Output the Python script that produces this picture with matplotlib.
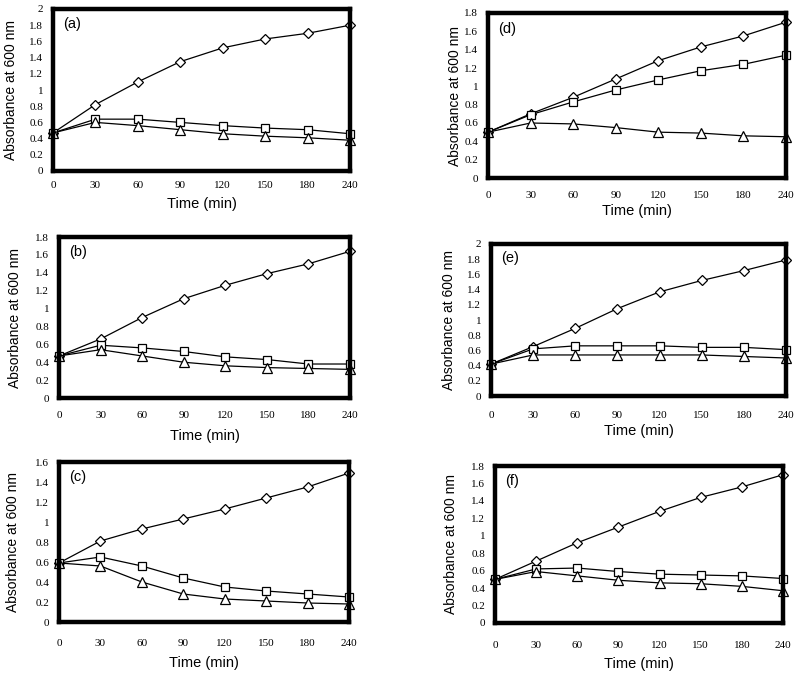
import numpy as np
import matplotlib
matplotlib.use("Agg")
import matplotlib.pyplot as plt
from matplotlib.ticker import FuncFormatter

times = ["0", "30", "60", "90", "120", "150", "180", "240"]

# absorbance at 600 nm
a_diamond = [0.47, 0.82, 1.10, 1.35, 1.52, 1.63, 1.70, 1.80]
a_square = [0.47, 0.64, 0.64, 0.60, 0.56, 0.53, 0.51, 0.46]
a_triangle = [0.47, 0.60, 0.56, 0.51, 0.46, 0.43, 0.41, 0.38]

b_diamond = [0.47, 0.66, 0.90, 1.11, 1.26, 1.39, 1.50, 1.64]
b_square = [0.47, 0.59, 0.56, 0.52, 0.46, 0.43, 0.38, 0.38]
b_triangle = [0.47, 0.54, 0.47, 0.40, 0.36, 0.34, 0.33, 0.32]

c_diamond = [0.59, 0.81, 0.93, 1.03, 1.13, 1.24, 1.35, 1.49]
c_square = [0.59, 0.65, 0.56, 0.44, 0.35, 0.31, 0.28, 0.25]
c_triangle = [0.59, 0.56, 0.40, 0.28, 0.23, 0.21, 0.19, 0.18]

d_diamond = [0.50, 0.70, 0.88, 1.08, 1.28, 1.43, 1.55, 1.70]
d_square = [0.50, 0.69, 0.83, 0.96, 1.07, 1.17, 1.24, 1.34]
d_triangle = [0.50, 0.60, 0.59, 0.55, 0.50, 0.49, 0.46, 0.45]

e_diamond = [0.42, 0.65, 0.89, 1.15, 1.37, 1.52, 1.65, 1.79]
e_square = [0.42, 0.62, 0.66, 0.66, 0.66, 0.64, 0.64, 0.61]
e_triangle = [0.42, 0.54, 0.54, 0.54, 0.54, 0.54, 0.52, 0.50]

f_diamond = [0.50, 0.71, 0.92, 1.10, 1.28, 1.44, 1.56, 1.70]
f_square = [0.50, 0.62, 0.63, 0.59, 0.56, 0.55, 0.54, 0.51]
f_triangle = [0.50, 0.59, 0.54, 0.49, 0.46, 0.45, 0.42, 0.37]

W, H = 800, 676

# (name, diamond, square, triangle, ymax, left, right, top, bottom, ylabel right edge, xlabel top offset, xtick pad)
panels = [
    ("(a)", a_diamond, a_square, a_triangle, 2.0, 53, 350, 9, 171, 18, 26, 7),
    ("(b)", b_diamond, b_square, b_triangle, 1.8, 59, 350, 237, 398, 22, 31, 9),
    ("(c)", c_diamond, c_square, c_triangle, 1.6, 59, 349, 462, 622, 20, 34, 12),
    ("(d)", d_diamond, d_square, d_triangle, 1.8, 488, 786, 13, 178, 462, 26, 9),
    ("(e)", e_diamond, e_square, e_triangle, 2.0, 491, 786, 244, 396, 456, 28, 11),
    ("(f)", f_diamond, f_square, f_triangle, 1.8, 495, 783, 466, 623, 458, 34, 13),
]

fig = plt.figure(figsize=(W / 100, H / 100), dpi=100)
serif = "Liberation Serif"
sans = "Liberation Sans"

x = np.arange(len(times))
for name, dia, sq, tri, ymax, l, r, t, b, ylx, xdy, xpad in panels:
    ax = fig.add_axes([l / W, (H - b) / H, (r - l) / W, (b - t) / H])
    style = dict(color="black", lw=0.9, mfc="white", mec="black", mew=0.9, clip_on=False, zorder=3)
    ax.plot(x, dia, marker="D", ms=5, **style)
    ax.plot(x, sq, marker="s", ms=5.5, **style)
    ax.plot(x, tri, marker="^", ms=6.5, **style)

    ax.set_xlim(0, len(times) - 1)
    ax.set_ylim(0, ymax)
    ax.set_xticks(x)
    ax.set_xticklabels(times)
    ax.set_yticks(np.arange(0, ymax + 0.01, 0.2))
    ax.yaxis.set_major_formatter(FuncFormatter(lambda v, p: "%g" % round(v, 1)))
    ax.tick_params(length=0, labelsize=8)
    ax.tick_params(axis="x", pad=xpad)
    ax.tick_params(axis="y", pad=7)
    for lab in ax.get_xticklabels() + ax.get_yticklabels():
        lab.set_fontfamily(serif)
    for sp in ax.spines.values():
        sp.set_linewidth(3.2)
        sp.set_zorder(4)

    ax.set_ylabel("Absorbance at 600 nm", fontsize=10, family=sans)
    ax.yaxis.set_label_coords((ylx - l) / (r - l), 0.5)
    ax.set_xlabel("Time (min)", fontsize=10.5, family=sans)
    ax.xaxis.set_label_coords(0.5, -xdy / (b - t))
    ax.text(0.035, 0.905, name, transform=ax.transAxes, fontsize=10.5,
            family=sans, va="center", ha="left")

fig.savefig("out.png", dpi=100)
